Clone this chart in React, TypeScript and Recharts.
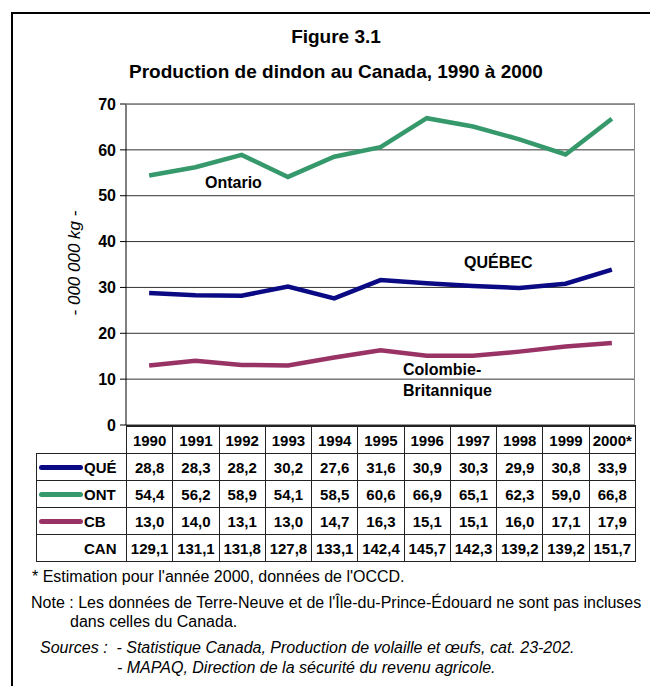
import { LineChart, Line, XAxis, YAxis, CartesianGrid } from "recharts";

const years = ["1990", "1991", "1992", "1993", "1994", "1995", "1996", "1997", "1998", "1999", "2000*"];
const que = [28.8, 28.3, 28.2, 30.2, 27.6, 31.6, 30.9, 30.3, 29.9, 30.8, 33.9];
const ont = [54.4, 56.2, 58.9, 54.1, 58.5, 60.6, 66.9, 65.1, 62.3, 59.0, 66.8];
const cb = [13.0, 14.0, 13.1, 13.0, 14.7, 16.3, 15.1, 15.1, 16.0, 17.1, 17.9];
const can = [129.1, 131.1, 131.8, 127.8, 133.1, 142.4, 145.7, 142.3, 139.2, 139.2, 151.7];
const yTicks = [0, 10, 20, 30, 40, 50, 60, 70];

const QUE_COLOR = "#0a0a84";
const ONT_COLOR = "#36996c";
const CB_COLOR = "#993366";

const data = years.map((y, i) => ({ year: y, que: que[i], ont: ont[i], cb: cb[i] }));

const fmt = (v: number) => v.toFixed(1).replace(".", ",");

const FONT = "'Liberation Sans', Arial, sans-serif";
const PLOT_L = 126;
const PLOT_R = 635;
const COL_W = (PLOT_R - PLOT_L) / years.length;

const rows = [
  { key: "QUÉ", color: QUE_COLOR, values: que },
  { key: "ONT", color: ONT_COLOR, values: ont },
  { key: "CB", color: CB_COLOR, values: cb },
  { key: "CAN", color: null, values: can },
];

const cell: React.CSSProperties = {
  border: "1px solid #222",
  padding: 0,
  textAlign: "center",
  fontWeight: "bold",
  fontSize: 15,
  height: 26,
  whiteSpace: "nowrap",
  overflow: "hidden",
};

const note: React.CSSProperties = { position: "absolute", fontSize: 16, lineHeight: "18px", whiteSpace: "pre" };

export default function App() {
  return (
    <div style={{ position: "absolute", left: 0, top: 0, width: 650, height: 686, background: "#fff", fontFamily: FONT, overflow: "hidden" }}>
      {/* outer frame */}
      <div style={{ position: "absolute", left: 11, top: 12, width: 700, height: 700, border: "2px solid #000" }} />

      <div style={{ position: "absolute", left: 236, width: 200, top: 26, textAlign: "center", fontWeight: "bold", fontSize: 19, lineHeight: "22px" }}>
        Figure 3.1
      </div>
      <div style={{ position: "absolute", left: 36, width: 600, top: 61, textAlign: "center", fontWeight: "bold", fontSize: 19, lineHeight: "22px" }}>
        Production de dindon au Canada, 1990 à 2000
      </div>

      <div style={{ position: "absolute", left: 0, top: 0 }}>
        <LineChart
          width={650}
          height={440}
          data={data}
          margin={{ top: 104, right: 650 - PLOT_R, bottom: 15, left: PLOT_L - 50 }}
          style={{ fontFamily: FONT }}
        >
          <CartesianGrid horizontal vertical={false} stroke="#333" />
          <XAxis dataKey="year" hide padding={{ left: COL_W / 2, right: COL_W / 2 }} />
          <YAxis
            width={50}
            domain={[0, 70]}
            ticks={yTicks}
            interval={0}
            tickSize={6}
            tickMargin={4}
            axisLine={{ stroke: "#000" }}
            tickLine={{ stroke: "#000" }}
            tick={{ fill: "#000", fontSize: 16, fontWeight: "bold" }}
          />
          <Line dataKey="ont" stroke={ONT_COLOR} strokeWidth={4.5} dot={false} isAnimationActive={false} />
          <Line dataKey="que" stroke={QUE_COLOR} strokeWidth={4.5} dot={false} isAnimationActive={false} />
          <Line dataKey="cb" stroke={CB_COLOR} strokeWidth={4.5} dot={false} isAnimationActive={false} />
        </LineChart>
      </div>

      {/* plot frame top/right */}
      <div style={{ position: "absolute", left: PLOT_L, top: 104, width: PLOT_R - PLOT_L - 1, height: 321, borderTop: "1px solid #888", borderRight: "1px solid #888" }} />

      {/* axis title */}
      <div
        style={{
          position: "absolute",
          left: 75 - 70,
          top: 263 - 10,
          width: 140,
          height: 20,
          lineHeight: "20px",
          textAlign: "center",
          fontStyle: "italic",
          fontSize: 17,
          transform: "rotate(-90deg)",
        }}
      >
        - 000 000 kg -
      </div>

      {/* series labels */}
      <div style={{ position: "absolute", left: 205, top: 174, fontWeight: "bold", fontSize: 16, lineHeight: "18px" }}>Ontario</div>
      <div style={{ position: "absolute", left: 464, top: 254, fontWeight: "bold", fontSize: 16, lineHeight: "18px" }}>QUÉBEC</div>
      <div style={{ position: "absolute", left: 403, top: 359, fontWeight: "bold", fontSize: 16, lineHeight: "21px" }}>
        Colombie-
        <br />
        Britannique
      </div>

      {/* data table */}
      <table
        style={{
          position: "absolute",
          left: 36,
          top: 425,
          borderCollapse: "collapse",
          tableLayout: "fixed",
          width: PLOT_R - 36,
          fontFamily: FONT,
        }}
      >
        <colgroup>
          <col style={{ width: PLOT_L - 36 }} />
          {years.map((y) => (
            <col key={y} style={{ width: COL_W }} />
          ))}
        </colgroup>
        <tbody>
          <tr>
            <td style={{ ...cell, border: "none", borderRight: "1px solid #222" }} />
            {years.map((y) => (
              <td key={y} style={{ ...cell, borderTop: "2px solid #222" }}>{y}</td>
            ))}
          </tr>
          {rows.map((r) => (
            <tr key={r.key}>
              <td style={{ ...cell, textAlign: "left" }}>
                <div style={{ display: "flex", alignItems: "center", fontSize: 15 }}>
                  {r.color ? (
                    <span style={{ display: "inline-block", width: 44, height: 5, borderRadius: 3, background: r.color, marginLeft: 2, marginRight: 1 }} />
                  ) : (
                    <span style={{ display: "inline-block", width: 47 }} />
                  )}
                  {r.key}
                </div>
              </td>
              {r.values.map((v, i) => (
                <td key={i} style={cell}>{fmt(v)}</td>
              ))}
            </tr>
          ))}
        </tbody>
      </table>

      {/* notes */}
      <div style={{ ...note, left: 32, top: 568 }}>* Estimation pour l'année 2000, données de l'OCCD.</div>
      <div style={{ ...note, left: 31, top: 594 }}>
        Note : Les données de Terre-Neuve et de l'Île-du-Prince-Édouard ne sont pas incluses
      </div>
      <div style={{ ...note, left: 70, top: 613 }}>dans celles du Canada.</div>
      <div style={{ ...note, left: 40, top: 639, fontStyle: "italic" }}>
        Sources :  - Statistique Canada, Production de volaille et œufs, cat. 23-202.
      </div>
      <div style={{ ...note, left: 117, top: 659, fontStyle: "italic" }}>
        - MAPAQ, Direction de la sécurité du revenu agricole.
      </div>
    </div>
  );
}
